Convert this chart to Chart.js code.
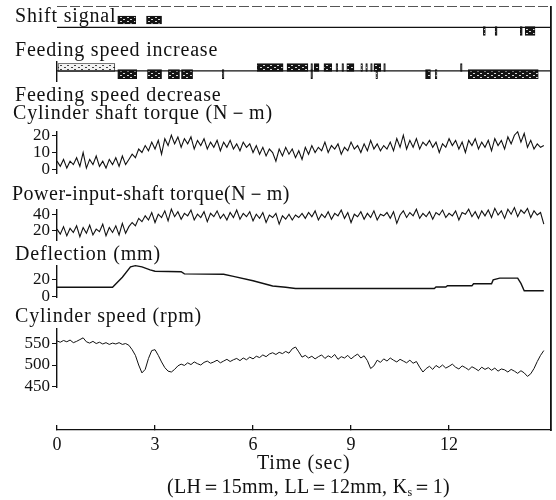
<!DOCTYPE html>
<html>
<head>
<meta charset="utf-8">
<script src="https://cdn.jsdelivr.net/npm/chart.js@4.4.1/dist/chart.umd.min.js"></script>
<style>
  body { margin: 0; background: #fff; }
  #wrap { position: relative; width: 556px; height: 500px; overflow: hidden; background: #fff; }
  #wrap canvas { position: absolute; left: 0; }
  .lbl { position: absolute; font-family: 'Liberation Serif', 'Times New Roman', serif; font-size: 20px;
         line-height: 20px; color: #111; white-space: nowrap; letter-spacing: 0.8px; }
  .lbl sub { font-size: 12px; vertical-align: -3px; line-height: 0; }
  .cap { letter-spacing: 0.3px; }
</style>
</head>
<body>
<div id="wrap">
  <canvas id="frame" width="556" height="500" style="top:0"></canvas>
  <canvas id="topLine" width="556" height="20" style="top:0"></canvas>
  <canvas id="pShift"></canvas>
  <canvas id="pFeed"></canvas>
  <canvas id="pCylTorque"></canvas>
  <canvas id="pPwrTorque"></canvas>
  <canvas id="pDefl"></canvas>
  <canvas id="pSpeed"></canvas>

  <div class="lbl" style="left:15px;top:5px">Shift signal</div>
  <div class="lbl" style="left:15px;top:39px">Feeding speed increase</div>
  <div class="lbl" style="left:15px;top:84px">Feeding speed decrease</div>
  <div class="lbl" style="left:13px;top:102px">Cylinder shaft torque (N－m)</div>
  <div class="lbl" style="left:12px;top:183px;letter-spacing:0.5px">Power-input-shaft torque(N－m)</div>
  <div class="lbl" style="left:15px;top:243px">Deflection (mm)</div>
  <div class="lbl" style="left:15px;top:305px">Cylinder speed (rpm)</div>
  <div class="lbl" style="left:257px;top:452px">Time (sec)</div>
  <div class="lbl cap" style="left:167px;top:476px">(LH＝15mm, LL＝12mm, K<sub>s</sub>＝1)</div>
</div>

<script>
// Zeitachse, gemeinsam fuer alle Spuren
const X_MAX = 15.12;
const X_TICKS = [0, 3, 6, 9, 12];

const SAMPLE_TIMES = [
  0.0, 0.1, 0.2, 0.3, 0.4, 0.5, 0.6, 0.7, 0.8, 0.9,
  1.0, 1.1, 1.2, 1.3, 1.4, 1.5, 1.6, 1.7, 1.8, 1.9,
  2.0, 2.1, 2.2, 2.3, 2.4, 2.5, 2.6, 2.7, 2.8, 2.9,
  3.0, 3.1, 3.2, 3.3, 3.4, 3.5, 3.6, 3.7, 3.8, 3.9,
  4.0, 4.1, 4.2, 4.3, 4.4, 4.5, 4.6, 4.7, 4.8, 4.9,
  5.0, 5.1, 5.2, 5.3, 5.4, 5.5, 5.6, 5.7, 5.8, 5.9,
  6.0, 6.1, 6.2, 6.3, 6.4, 6.5, 6.6, 6.7, 6.8, 6.9,
  7.0, 7.1, 7.2, 7.3, 7.4, 7.5, 7.6, 7.7, 7.8, 7.9,
  8.0, 8.1, 8.2, 8.3, 8.4, 8.5, 8.6, 8.7, 8.8, 8.9,
  9.0, 9.1, 9.2, 9.3, 9.4, 9.5, 9.6, 9.7, 9.8, 9.9,
  10.0, 10.1, 10.2, 10.3, 10.4, 10.5, 10.6, 10.7, 10.8, 10.9,
  11.0, 11.1, 11.2, 11.3, 11.4, 11.5, 11.6, 11.7, 11.8, 11.9,
  12.0, 12.1, 12.2, 12.3, 12.4, 12.5, 12.6, 12.7, 12.8, 12.9,
  13.0, 13.1, 13.2, 13.3, 13.4, 13.5, 13.6, 13.7, 13.8, 13.9,
  14.0, 14.1, 14.2, 14.3, 14.4, 14.5, 14.6, 14.7, 14.8, 14.9,
];

// Schaltsignal / Vorschub: Pulse als [von, bis] in Sekunden, Pegel relativ zur Nulllinie
const SHIFT_UP   = [[1.86, 2.41], [2.74, 3.20]];
const SHIFT_DOWN = [[13.05, 13.11], [13.41, 13.47], [14.18, 14.24], [14.33, 14.63]];
const SHIFT_LEVELS = { up: 1, down: -0.5 };
const FEED_INC = [
  [0.03, 1.77], [6.13, 6.92], [7.04, 7.68], [7.77, 7.82], [7.87, 8.02], [8.17, 8.41],
  [8.54, 8.59], [8.72, 8.77], [8.87, 9.09], [9.30, 9.35], [9.45, 9.50], [9.60, 9.65],
  [9.70, 9.91], [10.00, 10.05], [12.35, 12.40],
];
const FEED_DEC = [
  [1.86, 2.44], [2.77, 3.20], [3.41, 3.75], [3.81, 4.15], [5.06, 5.11], [7.77, 7.82],
  [9.76, 9.81], [11.28, 11.43], [11.58, 11.63], [12.59, 14.73],
];
const FEED_LEVELS = { up: 1, down: -1 };
const SIGNAL_SPAN = [0, 15.12];

// Zylinderwellenmoment (N-m)
const CYL_TORQUE_TICKS = [0, 10, 20];
const CYL_TORQUE = [
  5, 2, 6, 1, 5, 3, 7, 2, 10, 1,
  6, 3, 8, 2, 5, 1, 6, 3, 7, 2,
  8, 3, 6, 9, 7, 12, 10, 14, 11, 16,
  12, 17, 9, 18, 14, 20, 15, 19, 13, 18,
  15, 19, 12, 17, 14, 18, 12, 16, 13, 17,
  11, 16, 13, 17, 12, 15, 11, 16, 13, 15,
  10, 14, 9, 13, 8, 12, 10, 5, 12, 8,
  13, 9, 12, 7, 11, 6, 13, 9, 14, 10,
  13, 11, 16, 10, 14, 12, 15, 9, 13, 11,
  16, 12, 14, 10, 15, 11, 17, 12, 15, 11,
  14, 12, 16, 11, 18, 13, 20, 12, 17, 13,
  18, 12, 16, 14, 17, 13, 16, 10, 15, 13,
  18, 14, 17, 12, 16, 10, 17, 14, 18, 12,
  16, 13, 17, 11, 18, 14, 17, 12, 19, 15,
  20, 22, 16, 21, 13, 17, 12, 15, 13, 14,
];

// Antriebswellenmoment (N-m)
const PWR_TORQUE_TICKS = [20, 40];
const PWR_TORQUE = [
  22, 16, 25, 14, 23, 18, 26, 13, 24, 17,
  27, 15, 22, 19, 28, 14, 24, 18, 26, 15,
  29, 17, 25, 30, 26, 35, 31, 38, 33, 42,
  30, 40, 36, 44, 32, 46, 37, 43, 34, 41,
  38, 45, 33, 40, 36, 43, 31, 41, 37, 44,
  35, 40, 33, 42, 36, 45, 34, 41, 37, 43,
  32, 40, 35, 42, 30, 39, 36, 41, 28, 38,
  34, 40, 33, 39, 36, 41, 35, 42, 37, 44,
  33, 40, 36, 43, 34, 41, 38, 45, 35, 42,
  30, 40, 37, 43, 34, 41, 36, 44, 33, 40,
  38, 42, 35, 43, 29, 39, 44, 36, 42, 38,
  46, 35, 41, 37, 43, 34, 42, 39, 45, 36,
  41, 38, 44, 33, 42, 40, 46, 37, 43, 35,
  44, 38, 45, 36, 47, 39, 44, 35, 46, 40,
  48, 37, 45, 41, 47, 36, 44, 39, 42, 28,
];

// Durchbiegung (mm)
const DEFL_TICKS = [0, 20];
const DEFL_TIMES  = [0, 1.7, 2.0, 2.25, 2.4, 2.6, 2.85, 3.0, 3.8, 3.9, 5.1, 5.4, 6.0, 6.6, 7.0, 7.3,
                     11.55, 11.6, 11.9, 11.95, 12.7, 12.75, 13.3, 13.35, 13.55, 14.1, 14.2, 14.3, 14.9];
const DEFL_VALUES = [10.5, 10.5, 22, 34, 35.5, 34, 30.5, 29, 28.5, 26, 25.5, 23, 18, 12, 10.5, 9,
                     9, 10.8, 10.8, 12.3, 12.3, 14.5, 14.5, 19, 21, 21, 15, 6.5, 6.5];

// Zylinderdrehzahl (rpm)
const CYL_SPEED_TICKS = [450, 500, 550];
const CYL_SPEED = [
  555, 552, 556, 553, 557, 551, 554, 558, 562, 553,
  550, 554, 549, 552, 548, 551, 547, 550, 548, 551,
  547, 549, 545, 535, 522, 500, 482, 490, 515, 533,
  535, 522, 507, 494, 486, 484, 490, 498, 502, 499,
  505, 501, 507, 503, 500, 506, 509, 504, 507, 511,
  505, 509, 513, 508, 512, 515, 510, 516, 512, 518,
  514, 520, 517, 523, 519, 525, 528, 524, 529, 526,
  531, 527, 537, 541, 530, 518, 522, 516, 520, 514,
  519, 523, 515, 521, 517, 524, 513, 519, 516, 522,
  514, 520, 525, 516, 521, 510, 492, 498, 511, 506,
  514, 509, 516, 511, 507, 513, 509, 505, 511, 504,
  508, 495, 484, 492, 497, 490, 499, 494, 500, 493,
  497, 502, 495, 491, 498, 494, 489, 496, 492, 487,
  495, 490, 494, 488, 493, 486, 491, 489, 484, 490,
  486, 481, 487, 482, 474, 480, 492, 508, 522, 533,
];

const INK = '#111';
const FONT = "'Liberation Serif', 'Times New Roman', serif";
const TICK_FONT = { family: FONT, size: 17 };
const W = 556, AXIS_LEFT = 57, PAD = 12;

// Schraffur fuer die Signalbloecke (Scan-Optik)
function makeHatch(bg, fg) {
  const c = document.createElement('canvas');
  c.width = 7; c.height = 4;
  const g = c.getContext('2d');
  g.fillStyle = bg; g.fillRect(0, 0, 7, 4);
  g.fillStyle = fg; g.fillRect(1, 1, 2, 1); g.fillRect(4, 3, 2, 1);
  return g.createPattern(c, 'repeat');
}
const HATCH_DARK = makeHatch('#141414', '#d8d8d8');
const HATCH_LIGHT = makeHatch('#f2f2f2', '#444');

const series = (times, vals) => vals.map((v, i) => ({ x: times[i], y: v }));
const fixedTicks = list => s => { s.ticks = list.map(v => ({ value: v })); };

const trace = (vals, width) => ({
  type: 'line', data: series(SAMPLE_TIMES, vals),
  borderColor: INK, borderWidth: width, pointRadius: 0, tension: 0, clip: false,
});
const pulses = (list, level, thick, fill) => ({
  type: 'bar', indexAxis: 'y', grouped: false,
  data: list.map(([a, b]) => ({ x: [a, b], y: level })),
  barThickness: thick, backgroundColor: fill, borderColor: INK, borderWidth: 0.8,
  borderSkipped: false, clip: false,
});
const baseline = () => ({
  type: 'line', data: SIGNAL_SPAN.map(t => ({ x: t, y: 0 })),
  borderColor: INK, borderWidth: 1.2, pointRadius: 0, clip: false,
});

function panel(id, areaTop, areaHeight, y, datasets) {
  const cv = document.getElementById(id);
  cv.width = W;
  cv.height = areaHeight + 2 * PAD;
  cv.style.top = (areaTop - PAD) + 'px';
  return new Chart(cv, {
    type: 'line',
    data: { datasets },
    options: {
      responsive: false, animation: false, events: [],
      layout: { padding: { left: 0, right: 5, top: PAD, bottom: PAD } },
      plugins: { legend: { display: false }, tooltip: { enabled: false } },
      scales: {
        x: { type: 'linear', min: 0, max: X_MAX, display: false },
        y: Object.assign({
          type: 'linear',
          afterFit: s => { s.width = AXIS_LEFT; },
          grid: { drawOnChartArea: false, tickLength: 5, color: INK, lineWidth: 1 },
          border: { color: INK, width: 1.4 },
          ticks: { font: TICK_FONT, color: INK, padding: 2, autoSkip: false },
        }, y),
      },
    },
  });
}

const noTicks = { ticks: { display: false }, grid: { drawOnChartArea: false, drawTicks: false } };

// Rahmen: Zeitachse unten, Linie rechts
new Chart(document.getElementById('frame'), {
  type: 'line',
  data: { datasets: [] },
  options: {
    responsive: false, animation: false, events: [],
    layout: { padding: { left: AXIS_LEFT, right: 0, top: 7, bottom: 0 } },
    plugins: { legend: { display: false }, tooltip: { enabled: false } },
    scales: {
      x: {
        type: 'linear', position: 'bottom', min: 0, max: X_MAX,
        afterBuildTicks: fixedTicks(X_TICKS),
        afterFit: s => { s.height = 70; },
        grid: { drawOnChartArea: false, tickLength: -5, color: INK, lineWidth: 1.3 },
        border: { color: INK, width: 1.3 },
        ticks: { font: { family: FONT, size: 18 }, color: INK, padding: 9, maxRotation: 0, autoSkip: false },
      },
      yRight: {
        type: 'linear', position: 'right', min: 0, max: 1,
        afterFit: s => { s.width = 5; },
        ticks: { display: false },
        grid: { drawOnChartArea: false, drawTicks: false },
        border: { color: INK, width: 1.8 },
      },
    },
  },
});

// obere Rahmenlinie: Gitterlinie einer 1 px hohen Hilfsachse bei y=6..7
new Chart(document.getElementById('topLine'), {
  type: 'line',
  data: { datasets: [] },
  options: {
    responsive: false, animation: false, events: [],
    layout: { padding: { left: 0, right: 5, top: 6, bottom: 13 } },
    plugins: { legend: { display: false }, tooltip: { enabled: false } },
    scales: {
      x: { type: 'linear', min: 0, max: X_MAX, display: false },
      y: {
        type: 'linear', min: 0, max: 1,
        afterBuildTicks: fixedTicks([1]),
        afterFit: s => { s.width = AXIS_LEFT; },
        ticks: { display: false },
        grid: { drawOnChartArea: true, drawTicks: false, color: '#555', lineWidth: 1 },
        border: { display: false, dash: [10, 3] },
      },
    },
  },
});

// Nulllinie bei y=28, Pulse oben 13-21, unten 29-38
panel('pShift', 12, 28, Object.assign({ min: -1.091, max: 1.455 }, noTicks, { border: { display: false } }), [
  baseline(),
  pulses(SHIFT_UP, SHIFT_LEVELS.up, 8, HATCH_DARK),
  pulses(SHIFT_DOWN, SHIFT_LEVELS.down, 9, HATCH_DARK),
]);

panel('pFeed', 62, 19, Object.assign({ min: -2.1, max: 1.7 }, noTicks), [
  baseline(),
  Object.assign(pulses(FEED_INC, FEED_LEVELS.up, 8, HATCH_DARK), {
    backgroundColor: c => (c.dataIndex === 0 ? HATCH_LIGHT : HATCH_DARK),
  }),
  pulses(FEED_DEC, FEED_LEVELS.down, 9, HATCH_DARK),
]);

panel('pCylTorque', 131, 43, { min: -2.3, max: 22.3, afterBuildTicks: fixedTicks(CYL_TORQUE_TICKS) }, [
  trace(CYL_TORQUE, 1.1),
]);

panel('pPwrTorque', 209, 32, { min: 8, max: 46, afterBuildTicks: fixedTicks(PWR_TORQUE_TICKS) }, [
  trace(PWR_TORQUE, 1.1),
]);

panel('pDefl', 265, 33, { min: -1.7, max: 36, afterBuildTicks: fixedTicks(DEFL_TICKS) }, [
  { type: 'line', data: series(DEFL_TIMES, DEFL_VALUES), borderColor: INK, borderWidth: 1.4,
    pointRadius: 0, tension: 0, clip: false },
]);

panel('pSpeed', 328, 60, { min: 448, max: 584, afterBuildTicks: fixedTicks(CYL_SPEED_TICKS) }, [
  trace(CYL_SPEED, 1),
]);
</script>
</body>
</html>
